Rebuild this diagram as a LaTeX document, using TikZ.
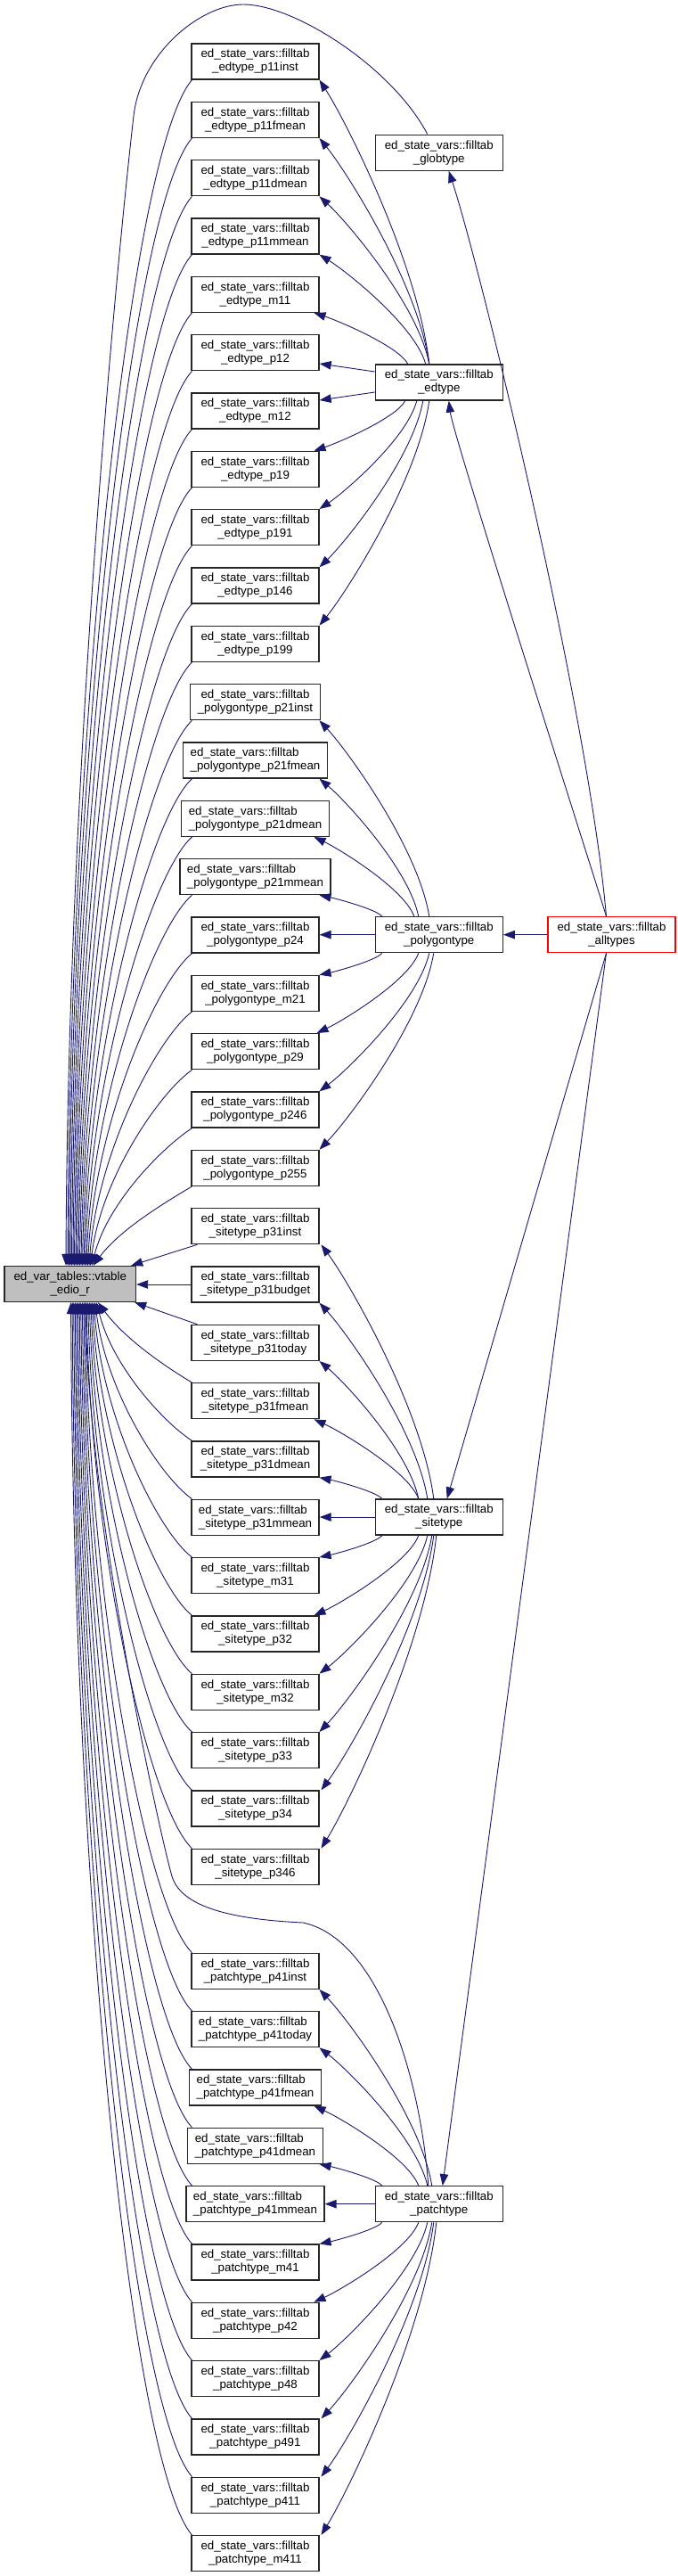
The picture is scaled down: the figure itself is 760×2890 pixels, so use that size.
\documentclass[tikz,border=0pt]{standalone}
\usepackage{fontspec}
\setmainfont{Liberation Sans}
\usetikzlibrary{arrows.meta,calc}
\definecolor{mblue}{HTML}{191970}
\definecolor{vtgray}{HTML}{BFBFBF}
\newcommand\dxfont{\fontsize{13.3pt}{15pt}\selectfont}
\begin{document}
\begin{tikzpicture}[x=1pt,y=1pt,
  box/.style={draw=black!85, line width=1.3pt, fill=white, minimum width=143pt, minimum height=40pt, inner xsep=8pt, inner ysep=2pt, align=center, font=\dxfont},
  lbox/.style={box, align=left},
  edge/.style={draw=mblue, line width=0.9pt, -{Triangle[length=13pt,width=9.5pt]}}]
\fill[white] (0,0) rectangle (760,-2890);
\useasboundingbox (0,0) rectangle (760,-2890);

% middle column
\foreach \nm/\st/\lbl/\yy in {
 p11inst/box/edtype\_p11inst/69,
 p11fmean/box/edtype\_p11fmean/134.33,
 p11dmean/box/edtype\_p11dmean/199.67,
 p11mmean/box/edtype\_p11mmean/265,
 m11/box/edtype\_m11/330.33,
 p12/box/edtype\_p12/395.67,
 m12/box/edtype\_m12/461,
 p19/box/edtype\_p19/526.33,
 p191/box/edtype\_p191/591.67,
 p146/box/edtype\_p146/657,
 p199/box/edtype\_p199/722.33,
 p21inst/box/polygontype\_p21inst/787.67,
 p21fmean/lbox/polygontype\_p21fmean/853,
 p21dmean/lbox/polygontype\_p21dmean/918.33,
 p21mmean/lbox/polygontype\_p21mmean/983.67,
 p24/box/polygontype\_p24/1049,
 m21/box/polygontype\_m21/1114.33,
 p29/box/polygontype\_p29/1179.67,
 p246/box/polygontype\_p246/1245,
 p255/box/polygontype\_p255/1310.33,
 p31inst/box/sitetype\_p31inst/1375.67,
 p31budget/box/sitetype\_p31budget/1441,
 p31today/box/sitetype\_p31today/1506.33,
 p31fmean/box/sitetype\_p31fmean/1571.67,
 p31dmean/box/sitetype\_p31dmean/1637,
 p31mmean/lbox/sitetype\_p31mmean/1702.33,
 m31/box/sitetype\_m31/1767.67,
 p32/box/sitetype\_p32/1833,
 m32/box/sitetype\_m32/1898.33,
 p33/box/sitetype\_p33/1963.67,
 p34/box/sitetype\_p34/2029,
 p346/box/sitetype\_p346/2094.33,
 p41inst/box/patchtype\_p41inst/2211.33,
 p41today/lbox/patchtype\_p41today/2276.67,
 p41fmean/lbox/patchtype\_p41fmean/2342,
 p41dmean/lbox/patchtype\_p41dmean/2407.33,
 p41mmean/lbox/patchtype\_p41mmean/2472.67,
 m41/box/patchtype\_m41/2538,
 p42/box/patchtype\_p42/2603.33,
 p48/box/patchtype\_p48/2668.67,
 p491/box/patchtype\_p491/2734,
 p411/box/patchtype\_p411/2799.33,
 m411/box/patchtype\_m411/2864.67}{
  \node[\st] (\nm) at (286.5,-\yy) {ed\_state\_vars::filltab\\\_\lbl};
}

% left node
\node[box, fill=vtgray, minimum width=147.5pt] (vt) at (78.75,-1440.5) {ed\_var\_tables::vtable\\\_edio\_r};

% right-middle column
\node[box] (globtype) at (492.75,-171.17) {ed\_state\_vars::filltab\\\_globtype};
\node[box] (edtype) at (492.75,-429) {ed\_state\_vars::filltab\\\_edtype};
\node[box] (polygontype) at (492.75,-1048.67) {ed\_state\_vars::filltab\\\_polygontype};
\node[box] (sitetype) at (492.75,-1702) {ed\_state\_vars::filltab\\\_sitetype};
\node[box] (patchtype) at (492.75,-2472.67) {ed\_state\_vars::filltab\\\_patchtype};
\node[box, draw=red] (alltypes) at (686.5,-1048.67) {ed\_state\_vars::filltab\\\_alltypes};

% edges from middle nodes above vt
\foreach \nm/\xe in {p11inst/76, p11fmean/77.5, p11dmean/79, p11mmean/80.5, m11/82, p12/83.5, m12/85, p19/86.5, p191/88, p146/89.5, p199/91, p21inst/92.5, p21fmean/94, p21dmean/95.5, p21mmean/97, p24/98.5, m21/100, p29/101.5, p246/103, p255/104.5}{
  \draw[edge] let \p1=($(\nm.south)+(-71,0)$), \p2=($(vt.north)+(\xe-78.75,0)$), \n1={\y1-\y2} in
    (\p1) .. controls ({\x1-30-0.03*\n1},{\y1-15-0.05*\n1}) and ({\x2+min(30,2700/\n1)},{\y2+0.45*\n1}) .. (\p2);
}
% edges from middle nodes below vt
\foreach \nm/\xe in {p31fmean/110, p31dmean/108.4, p31mmean/106.8, m31/105.2, p32/103.6, m32/102, p33/100.4, p34/98.8, p346/97.2, p41inst/95.6, p41today/94, p41fmean/92.4, p41dmean/90.8, p41mmean/89.2, m41/87.6, p42/86, p48/84.4, p491/82.8, p411/81.2, m411/79.6}{
  \draw[edge] let \p1=($(\nm.north)+(-71,0)$), \p2=($(vt.south)+(\xe-78.75,0)$), \n1={\y2-\y1} in
    (\p1) .. controls ({\x1-30-0.03*\n1},{\y1+15+0.05*\n1}) and ({\x2+min(30,2700/\n1)},{\y2-0.45*\n1}) .. (\p2);
}
\draw[edge] ($(p31inst.south west)+(7,0)$) -- ($(vt.north east)+(-6,0)$);
\draw[edge] (p31budget.west) -- (p31budget.west -| vt.east);
\draw[edge] ($(p31today.north west)+(7,0)$) -- ($(vt.south east)+(-2,0)$);

% parent -> children above
\foreach \qp/\qc/\qs/\qe in {
 edtype/p11inst/-11/72, edtype/p11fmean/-11/72, edtype/p11dmean/-11/72, edtype/p11mmean/-15/72, edtype/m11/-35/66,
 polygontype/p21inst/-11/72, polygontype/p21fmean/-23/72, polygontype/p21dmean/-28/66, polygontype/p21mmean/-64/72,
 sitetype/p31inst/-6/74, sitetype/p31budget/-13/72, sitetype/p31today/-23/72, sitetype/p31fmean/-23/66, sitetype/p31dmean/-64/72,
 patchtype/p41inst/-8/72, patchtype/p41today/-13/72, patchtype/p41fmean/-23/66, patchtype/p41dmean/-64/72}{
  \draw[edge] let \p1=($(\qp.north)+(\qs,0)$), \p2=($(\qc.south)+(\qe,0)$), \n1={\x1-\x2}, \n2={\y2-\y1} in
    (\p1) .. controls ({\x1-0.1*\n1},{\y1+0.35*\n2}) and ({\x2+0.25*\n1},{\y2-0.15*\n2}) .. (\p2);
}
% parent -> children below
\foreach \qp/\qc/\qs/\qe in {
 edtype/p19/-38/66, edtype/p191/-25/72, edtype/p146/-18/72, edtype/p199/-11/72,
 polygontype/m21/-64/72, polygontype/p29/-23/69, polygontype/p246/-11/72, polygontype/p255/-6/72,
 sitetype/m31/-64/72, sitetype/p32/-23/66, sitetype/m32/-13/72, sitetype/p33/-8/72, sitetype/p34/-6/74, sitetype/p346/-3/74,
 patchtype/m41/-64/72, patchtype/p42/-23/66, patchtype/p48/-13/72, patchtype/p491/-8/74, patchtype/p411/-6/74, patchtype/m411/-3/74}{
  \draw[edge] let \p1=($(\qp.south)+(\qs,0)$), \p2=($(\qc.north)+(\qe,0)$), \n1={\x1-\x2}, \n2={\y1-\y2} in
    (\p1) .. controls ({\x1-0.1*\n1},{\y1-0.35*\n2}) and ({\x2+0.25*\n1},{\y2+0.15*\n2}) .. (\p2);
}
% side edges
\draw[edge] ($(edtype.west)+(0,12)$) -- ($(p12.east)+(0,-12.3)$);
\draw[edge] ($(edtype.west)+(0,-11)$) -- ($(m12.east)+(0,12)$);
\draw[edge] (polygontype.west) -- (polygontype.west -| p24.east);
\draw[edge] (sitetype.west) -- (sitetype.west -| p31mmean.east);
\draw[edge] (patchtype.west) -- (patchtype.west -| p41mmean.east);

% alltypes edges
\draw[edge] ($(alltypes.north)+(-6,0)$) .. controls +(-20,230) and +(36,-110) .. ($(globtype.south)+(11,0)$);
\draw[edge] ($(alltypes.north)+(-6,0)$) .. controls +(-12,40) and +(5,-40) .. ($(edtype.south)+(11,0)$);
\draw[edge] (alltypes.west) -- (polygontype.east);
\draw[edge] ($(alltypes.south)+(-6,0)$) -- ($(sitetype.north)+(9,0)$);
\draw[edge] ($(alltypes.south)+(-6,0)$) -- ($(patchtype.north)+(4,0)$);

% globtype -> vt (over the top)
\coordinate (gpeak) at (273,-5);
\coordinate (gbend) at (150,-130);
\draw[edge] ($(globtype.north)+(-13,0)$) .. controls (440,-75) and (330,-5) .. (gpeak)
   .. controls (225,-5) and (158,-60) .. (gbend)
   .. controls (126,-340) and (76,-900) .. ($(vt.north)+(-4.75,0)$);

% patchtype -> vt
\coordinate (pa) at (340,-2157);
\coordinate (pb) at (193,-2105);
\draw[edge] ($(patchtype.north)+(-12,0)$) .. controls (472,-2330) and (425,-2175) .. (pa)
   .. controls (255,-2153) and (203,-2138) .. (pb)
   .. controls (180,-2060) and (100,-1700) .. ($(vt.south)+(17,0)$);
\end{tikzpicture}
\end{document}
